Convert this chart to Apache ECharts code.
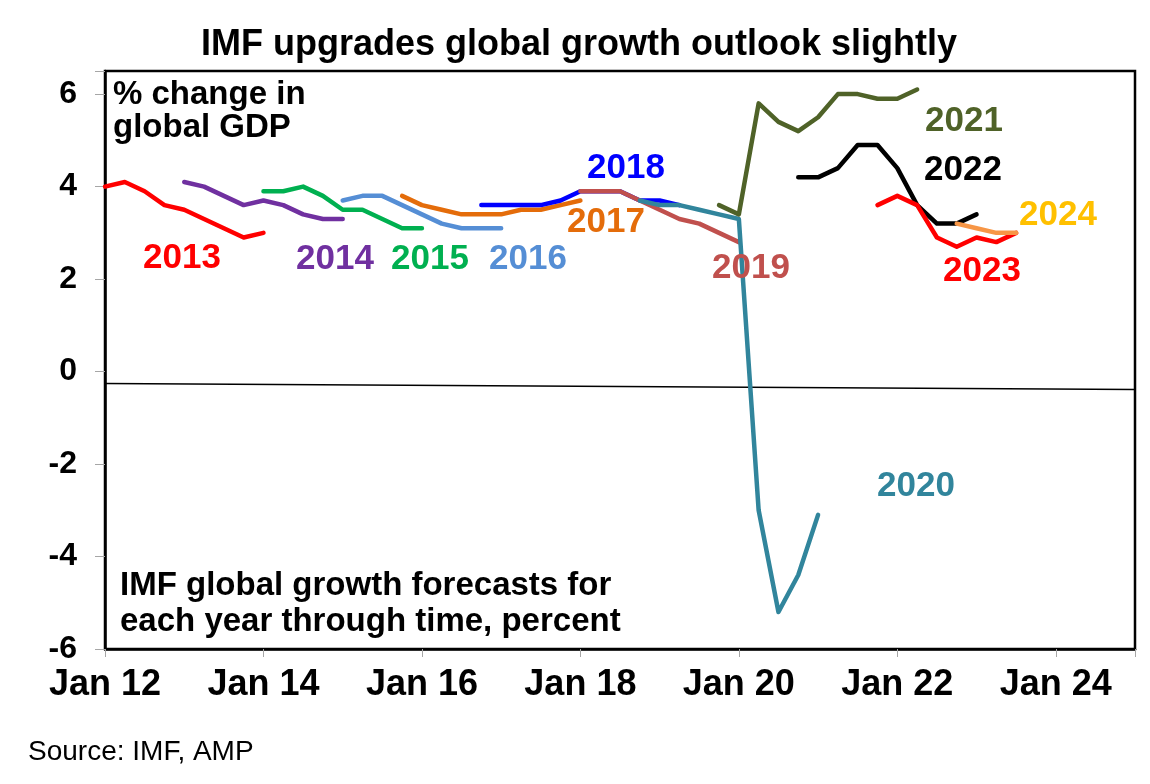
<!DOCTYPE html>
<html>
<head>
<meta charset="utf-8">
<script src="https://cdn.jsdelivr.net/npm/echarts@6/dist/echarts.min.js"></script>
<style>
  html, body { margin: 0; padding: 0; background: #fff; }
  #main { width: 1150px; height: 784px; }
</style>
</head>
<body>
<div id="main"></div>
<script>
// IMF forecasts for each year, one value per quarterly WEO release (Jan, Apr, Jul, Oct)
var years = ['2013', '2014', '2015', '2016', '2017', '2018', '2019', '2020', '2021', '2022', '2023', '2024'];
var firstRelease = [2012, 2013, 2014, 2015, 2015.75, 2016.75, 2018, 2018.75, 2019.75, 2020.75, 2021.75, 2022.75];

var f2013 = [4.0, 4.1, 3.9, 3.6, 3.5, 3.3, 3.1, 2.9, 3.0];
var f2014 = [4.1, 4.0, 3.8, 3.6, 3.7, 3.6, 3.4, 3.3, 3.3];
var f2015 = [3.9, 3.9, 4.0, 3.8, 3.5, 3.5, 3.3, 3.1, 3.1];
var f2016 = [3.7, 3.8, 3.8, 3.6, 3.4, 3.2, 3.1, 3.1, 3.1];
var f2017 = [3.8, 3.6, 3.5, 3.4, 3.4, 3.4, 3.5, 3.5, 3.6, 3.7];
var f2018 = [3.6, 3.6, 3.6, 3.6, 3.7, 3.9, 3.9, 3.9, 3.7, 3.7, 3.6];
var f2019 = [3.9, 3.9, 3.9, 3.7, 3.5, 3.3, 3.2, 3.0, 2.8];
var f2020 = [3.7, 3.6, 3.6, 3.5, 3.4, 3.3, -3.0, -5.2, -4.4, -3.1];
var f2021 = [3.6, 3.4, 5.8, 5.4, 5.2, 5.5, 6.0, 6.0, 5.9, 5.9, 6.1];
var f2022 = [4.2, 4.2, 4.4, 4.9, 4.9, 4.4, 3.6, 3.2, 3.2, 3.4];
var f2023 = [3.6, 3.8, 3.6, 2.9, 2.7, 2.9, 2.8, 3.0];
var f2024 = [3.2, 3.1, 3.0, 3.0];
var forecasts = [f2013, f2014, f2015, f2016, f2017, f2018, f2019, f2020, f2021, f2022, f2023, f2024];

// the slightly tilted reference line drawn near zero
var baseLine = [[2012, -0.26], [2025, -0.39]];

var lineColors = ['#FF0000', '#7030A0', '#00B050', '#558ED5', '#E46C0A', '#0000FF',
                  '#C0504D', '#31859C', '#4F6228', '#000000', '#FF0000', '#F79646'];
var labelColors = ['#FF0000', '#7030A0', '#00B050', '#558ED5', '#E46C0A', '#0000FF',
                   '#C0504D', '#31859C', '#4F6228', '#000000', '#FF0000', '#FFC000'];
// label placement in pixels (left edge, vertical centre)
var labelPos = [[143, 258], [296, 259], [391, 259], [489, 259], [567, 222], [587, 168],
                [712, 268], [877, 486], [925, 121], [924, 170], [943, 271], [1019, 215]];

var FONT = '"Liberation Sans", Arial, sans-serif';

var series = [{
    type: 'line',
    data: baseLine,
    showSymbol: false,
    silent: true,
    lineStyle: {color: '#000', width: 1.5},
    z: 1
}];
forecasts.forEach(function (vals, k) {
    series.push({
        name: years[k],
        type: 'line',
        showSymbol: false,
        data: vals.map(function (v, i) { return [firstRelease[k] + i * 0.25, v]; }),
        lineStyle: {color: lineColors[k], width: 4.5, cap: 'round', join: 'round'},
        itemStyle: {color: lineColors[k]},
        z: 2 + k
    });
});

var graphic = [
    {type: 'text', x: 579, y: 45, style: {text: 'IMF upgrades global growth outlook slightly', font: 'bold 36px ' + FONT, fill: '#000', textAlign: 'center', textVerticalAlign: 'middle'}},
    {type: 'text', x: 113, y: 95, style: {text: '% change in', font: 'bold 33px ' + FONT, fill: '#000', textVerticalAlign: 'middle'}},
    {type: 'text', x: 113, y: 128, style: {text: 'global GDP', font: 'bold 33px ' + FONT, fill: '#000', textVerticalAlign: 'middle'}},
    {type: 'text', x: 120, y: 586, style: {text: 'IMF global growth forecasts for', font: 'bold 33px ' + FONT, fill: '#000', textVerticalAlign: 'middle'}},
    {type: 'text', x: 120, y: 622, style: {text: 'each year through time, percent', font: 'bold 33px ' + FONT, fill: '#000', textVerticalAlign: 'middle'}},
    {type: 'text', x: 28, y: 752, style: {text: 'Source: IMF, AMP', font: '28px ' + FONT, fill: '#000', textVerticalAlign: 'middle'}}
];
years.forEach(function (y, k) {
    graphic.push({type: 'text', x: labelPos[k][0], y: labelPos[k][1], z: 100,
        style: {text: y, font: 'bold 35px ' + FONT, fill: labelColors[k], textVerticalAlign: 'middle'}});
});

var chart = echarts.init(document.getElementById('main'));
chart.setOption({
    animation: false,
    backgroundColor: '#fff',
    grid: {left: 105, right: 15, top: 71, bottom: 135, show: true, borderColor: '#000', borderWidth: 2.5, backgroundColor: 'transparent'},
    xAxis: {
        type: 'value', min: 2012, max: 2025, interval: 2,
        axisLine: {show: true, onZero: false, lineStyle: {color: '#000', width: 2.5}},
        axisTick: {show: true, length: 8, lineStyle: {color: '#A6A6A6', width: 1}},
        splitLine: {show: false},
        axisLabel: {
            margin: 18, fontFamily: FONT, fontWeight: 'bold', fontSize: 36, color: '#000',
            formatter: function (v) { return (v - 2012) % 2 === 0 ? 'Jan ' + String(v).slice(2) : ''; }
        }
    },
    yAxis: {
        type: 'value', min: -6, max: 6.5, interval: 2,
        axisLine: {show: true, onZero: false, lineStyle: {color: '#000', width: 2.5}},
        axisTick: {show: true, length: 10, lineStyle: {color: '#A6A6A6', width: 1}},
        splitLine: {show: false},
        axisLabel: {
            margin: 28, fontFamily: FONT, fontWeight: 'bold', fontSize: 32, color: '#000',
            formatter: function (v) { return v % 2 === 0 ? String(v) : ''; }
        }
    },
    series: series,
    graphic: graphic
});
</script>
</body>
</html>
